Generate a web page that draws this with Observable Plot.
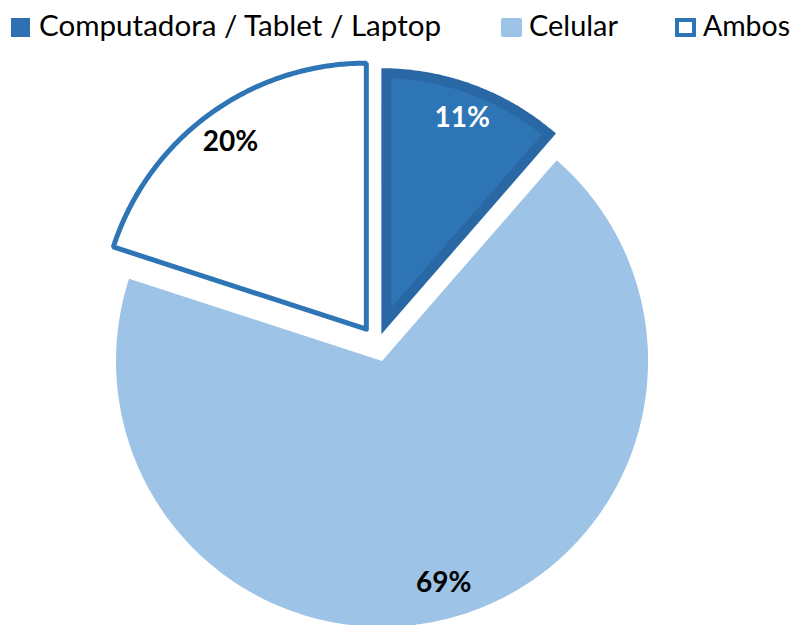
<!DOCTYPE html>
<html>
<head>
<meta charset="utf-8">
<script src="https://cdn.jsdelivr.net/npm/d3@7"></script>
<script src="https://cdn.jsdelivr.net/npm/@observablehq/plot@0.6"></script>
<style>
  html, body { margin: 0; padding: 0; background: #ffffff; }
  #chart svg { display: block; }
  #legend { display: block; }
</style>
</head>
<body>
<svg id="legend" width="793" height="48"></svg>
<div id="chart"></div>
<script>
// ---- data ----
const categories = ["Computadora / Tablet / Laptop", "Celular", "Ambos"];
const values = [11.4, 68.6, 20];
const labels = ["11%", "69%", "20%"];

// ---- styles ----
const fillColors = ["#2A68A5", "#9DC3E6", "#FFFFFF"];   // outer fill
const innerColors = ["#2E75B6", null, null];           // inner fill (bordered slice)
const outlineColors = [null, null, "#2E75B6"];          // outline stroke
const labelColors = ["#FFFFFF", "#000000", "#000000"];
const legendSwatch = ["#2E70B2", "#9DC3E6", "#FFFFFF"];

// ---- layout ----
const W = 793, H = 625, LEG = 48;
const cx = 377, cy = 344, R = 266;
const explode = [11, 17, 19];
const labelR = 231;
const rad = Math.PI / 180;
const dir = a => [Math.sin(a * rad), -Math.cos(a * rad)];

const total = d3.sum(values);
let acc = 0;
const slices = values.map((v, i) => {
  const a0 = acc / total * 360;
  acc += v;
  const a1 = acc / total * 360;
  const mid = (a0 + a1) / 2;
  const [ux, uy] = dir(mid);
  return {i, cat: categories[i], a0, a1, mid, ax: cx + explode[i] * ux, ay: cy + explode[i] * uy};
});

function wedge(s, inset) {
  const h = (s.a1 - s.a0) / 2 * rad;
  const [ux, uy] = dir(s.mid);
  const k = inset > 0 ? inset / Math.sin(h) : 0;
  const px = s.ax + k * ux, py = s.ay + k * uy;
  const r = R - inset;
  const d = inset > 0 ? Math.asin(inset / r) / rad : 0;
  const b0 = s.a0 + d, b1 = s.a1 - d;
  const n = Math.max(8, Math.ceil((b1 - b0) / 0.5));
  const pts = [{i: s.i, cat: s.cat, x: px, y: py}];
  for (let j = 0; j <= n; j++) {
    const a = b0 + (b1 - b0) * j / n;
    const [dx, dy] = dir(a);
    pts.push({i: s.i, cat: s.cat, x: s.ax + r * dx, y: s.ay + r * dy});
  }
  pts.push({i: s.i, cat: s.cat, x: px, y: py});
  return pts;
}

const outerPts = slices.flatMap(s => wedge(s, 0));
const innerPts = slices.filter(s => innerColors[s.i]).flatMap(s => wedge(s, 10));
const outlinePts = slices.filter(s => outlineColors[s.i]).flatMap(s => wedge(s, 0));
const labelPts = slices.map(s => {
  const [ux, uy] = dir(s.mid);
  return {i: s.i, text: labels[s.i], x: s.ax + labelR * ux, y: s.ay + labelR * uy};
});

const chart = Plot.plot({
  width: W,
  height: H - LEG,
  margin: 0,
  x: {domain: [0, W], range: [0, W], axis: null},
  y: {domain: [LEG, H], range: [0, H - LEG], axis: null},
  style: {background: "transparent"},
  marks: [
    Plot.line(outerPts, {x: "x", y: "y", z: "cat", fill: d => fillColors[d.i], stroke: "none"}),
    Plot.line(innerPts, {x: "x", y: "y", z: "cat", fill: d => innerColors[d.i], stroke: "none"}),
    Plot.line(outlinePts, {x: "x", y: "y", z: "cat", fill: "none", stroke: d => outlineColors[d.i], strokeWidth: 5, strokeLinejoin: "miter"}),
    Plot.text(labelPts, {x: "x", y: "y", text: "text", fill: d => labelColors[d.i],
      fontSize: 28, fontWeight: "bold", fontFamily: "Lato, 'Open Sans', sans-serif"})
  ]
});
document.getElementById("chart").appendChild(chart);

// ---- legend ----
const legendLayout = [
  {sx: 11, sw: 19, tx: 39, tw: 402},
  {sx: 501, sw: 21, tx: 529, tw: 89},
  {sx: 675, sw: 21, tx: 703, tw: 87}
];
const leg = d3.select("#legend");
categories.forEach((c, i) => {
  const L = legendLayout[i];
  if (i === 2) {
    leg.append("rect").attr("x", L.sx + 2).attr("y", 20).attr("width", L.sw - 4).attr("height", 15)
      .attr("fill", legendSwatch[i]).attr("stroke", "#2E75B6").attr("stroke-width", 4);
  } else {
    leg.append("rect").attr("x", L.sx).attr("y", 18).attr("width", L.sw).attr("height", 19)
      .attr("rx", i === 1 ? 2 : 0).attr("fill", legendSwatch[i]);
  }
  leg.append("text").attr("x", L.tx).attr("y", 36)
    .attr("font-family", "Lato, 'Open Sans', sans-serif").attr("font-size", 29)
    .attr("fill", "#000").attr("textLength", L.tw).attr("lengthAdjust", "spacingAndGlyphs")
    .text(c);
});
</script>
</body>
</html>
